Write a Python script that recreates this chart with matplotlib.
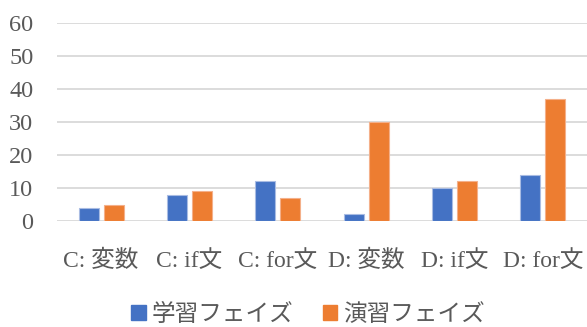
import numpy as np
import matplotlib.pyplot as plt
from matplotlib.patches import Patch

categories = ["C: 変数", "C: if文", "C: for文", "D: 変数", "D: if文", "D: for文"]
learning = [4, 8, 12, 2, 10, 14]
practice = [5, 9, 7, 30, 12, 37]
series_names = ["学習フェイズ", "演習フェイズ"]
y_ticks = [0, 10, 20, 30, 40, 50, 60]

fonts = ["Liberation Serif", "Noto Sans CJK JP", "DejaVu Sans"]
plt.rcParams["font.family"] = fonts

blue = "#4472C4"
orange = "#ED7D31"
gray = "#595959"

fig = plt.figure(figsize=(5.87, 3.27), dpi=100)
ax = fig.add_axes([57 / 587, 106 / 327, 530 / 587, 198 / 327])

x = np.arange(len(categories))
w = 0.227
off = 0.142
ax.bar(x - off, learning, w, color=blue, edgecolor="#A9BCE3", linewidth=0.8, zorder=3)
ax.bar(x + off, practice, w, color=orange, edgecolor="#F4B08A", linewidth=0.8, zorder=3)

ax.set_xlim(-0.5, len(categories) - 0.5)
ax.set_ylim(0, 60)
ax.set_yticks(y_ticks)
ax.set_xticks(x)
ax.set_xticklabels(categories)
ax.grid(axis="y", color="#D9D9D9", linewidth=1.3, zorder=0)
ax.set_axisbelow(True)
for s in ax.spines.values():
    s.set_visible(False)
ax.tick_params(axis="both", length=0, colors=gray)
ax.tick_params(axis="y", pad=17, labelsize=17.5)
ax.tick_params(axis="x", pad=33, labelsize=17)
# mixed fonts give uneven boxes, so line the labels up on their baseline
for lab in ax.get_xticklabels():
    lab.set_verticalalignment("baseline")

handles = [Patch(color=blue), Patch(color=orange)]
fig.legend(handles, series_names, loc="center", bbox_to_anchor=(308 / 587, 12 / 327),
           ncol=2, frameon=False, fontsize=17, labelcolor=gray,
           handlelength=0.6, handleheight=0.6, handletextpad=0.25, columnspacing=1.25)

fig.savefig("out.png", dpi=100)
